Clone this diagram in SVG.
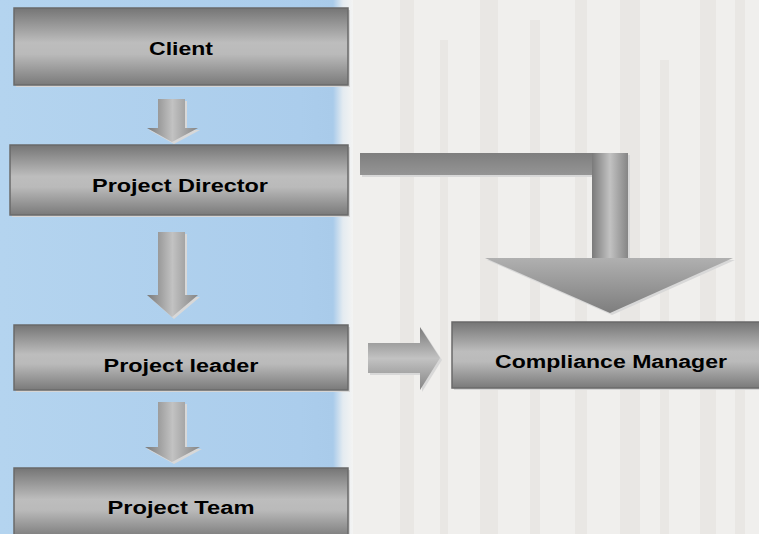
<svg xmlns="http://www.w3.org/2000/svg" width="759" height="534" viewBox="0 0 759 534">
<defs>
<linearGradient id="bgBlue" x1="0" y1="0" x2="1" y2="0">
<stop offset="0" stop-color="#b4d4ef"/>
<stop offset="0.9" stop-color="#abcdec"/>
<stop offset="1" stop-color="#a9cbea"/>
</linearGradient>
<linearGradient id="fade" x1="0" y1="0" x2="1" y2="0">
<stop offset="0" stop-color="#a9cbea"/>
<stop offset="0.5" stop-color="#e4ebf1"/>
<stop offset="1" stop-color="#f4f4f3"/>
</linearGradient>
<linearGradient id="boxG" x1="0" y1="0" x2="0" y2="1">
<stop offset="0" stop-color="#757575"/>
<stop offset="0.45" stop-color="#bdbdbd"/>
<stop offset="0.6" stop-color="#bababa"/>
<stop offset="1" stop-color="#7a7a7a"/>
</linearGradient>
<linearGradient id="arrV" x1="0" y1="0" x2="1" y2="0">
<stop offset="0" stop-color="#7a7a7a"/>
<stop offset="0.5" stop-color="#c2c2c2"/>
<stop offset="1" stop-color="#858585"/>
</linearGradient>
<linearGradient id="arrH" x1="0" y1="0" x2="0" y2="1">
<stop offset="0" stop-color="#7a7a7a"/>
<stop offset="0.5" stop-color="#c2c2c2"/>
<stop offset="1" stop-color="#858585"/>
</linearGradient>
<linearGradient id="barG" x1="0" y1="0" x2="0" y2="1">
<stop offset="0" stop-color="#7e7e7e"/>
<stop offset="1" stop-color="#959595"/>
</linearGradient>
<linearGradient id="headG" x1="0" y1="0" x2="0" y2="1">
<stop offset="0" stop-color="#b0b0b0"/>
<stop offset="1" stop-color="#7e7e7e"/>
</linearGradient>
</defs>
<style>
.box{fill:url(#boxG);stroke:#6a6a6a;stroke-width:1.5}
.shadow{fill:#d6d6d6}
.lbl{font-family:"Liberation Sans",Arial,sans-serif;font-weight:bold;font-size:18px;fill:#000;text-anchor:middle}
.av{fill:url(#arrV)}
.ah{fill:url(#arrH)}
.ash{fill:#d8d8d8}
</style>
<!-- background -->
<rect x="0" y="0" width="759" height="534" fill="#f0efed"/>
<g fill="#dedbd6" opacity="0.35">
<rect x="400" y="0" width="14" height="534"/>
<rect x="440" y="40" width="8" height="494"/>
<rect x="480" y="0" width="18" height="534"/>
<rect x="530" y="20" width="10" height="514"/>
<rect x="575" y="0" width="12" height="534"/>
<rect x="620" y="0" width="20" height="534"/>
<rect x="660" y="60" width="9" height="474"/>
<rect x="700" y="0" width="16" height="534"/>
<rect x="735" y="0" width="10" height="534"/>
</g>
<rect x="0" y="0" width="333" height="534" fill="url(#bgBlue)"/>
<rect x="333" y="0" width="20" height="534" fill="url(#fade)"/>

<!-- connectors -->
<g id="connectors">
<!-- Client -> Director -->
<path class="ash" d="M160,101 H187 V130 H200 L174,144 L149,130 H160 Z"/>
<path class="av" d="M158,99 H185 V128 H198 L172,142 L147,128 H158 Z"/>
<!-- Director -> Leader -->
<path class="ash" d="M160,234 H187 V297 H200 L174,319 L149,297 H160 Z"/>
<path class="av" d="M158,232 H185 V295 H198 L172,317 L147,295 H158 Z"/>
<!-- Leader -> Team -->
<path class="ash" d="M160,404 H187 V449 H202 L174,464 L147,449 H160 Z"/>
<path class="av" d="M158,402 H185 V447 H200 L172,462 L145,447 H158 Z"/>
<!-- Leader -> Compliance -->
<path class="ash" d="M370,345 H422 V329 L442,360 L422,392 V375 H370 Z"/>
<path class="ah" d="M368,343 H420 V327 L440,358 L420,390 V373 H368 Z"/>
<!-- Director -> Compliance (elbow) -->
<path class="ash" d="M362,155 H630 V260 H735 L612,315 L487,260 H594 V177 H362 Z"/>
<rect x="360" y="153" width="268" height="22" fill="url(#barG)"/>
<rect x="592" y="153" width="36" height="105" fill="url(#arrV)"/>
<path d="M485,258 H733 L610,313 Z" fill="url(#headG)"/>
</g>

<!-- nodes -->
<g id="client">
<rect class="shadow" x="16" y="10" width="334" height="77"/>
<rect class="box" x="14" y="8" width="334" height="77"/>
<text class="lbl" x="181" y="55" textLength="64" lengthAdjust="spacingAndGlyphs">Client</text>
</g>
<g id="director">
<rect class="shadow" x="12" y="147" width="338" height="70"/>
<rect class="box" x="10" y="145" width="338" height="70"/>
<text class="lbl" x="180" y="192" textLength="176" lengthAdjust="spacingAndGlyphs">Project Director</text>
</g>
<g id="leader">
<rect class="shadow" x="16" y="327" width="334" height="65"/>
<rect class="box" x="14" y="325" width="334" height="65"/>
<text class="lbl" x="181" y="372" textLength="155" lengthAdjust="spacingAndGlyphs">Project leader</text>
</g>
<g id="team">
<rect class="shadow" x="16" y="470" width="334" height="66"/>
<rect class="box" x="14" y="468" width="334" height="70"/>
<text class="lbl" x="181" y="514" textLength="147" lengthAdjust="spacingAndGlyphs">Project Team</text>
</g>
<g id="compliance">
<rect class="shadow" x="454" y="324" width="310" height="66"/>
<rect class="box" x="452" y="322" width="312" height="66"/>
<text class="lbl" x="611" y="368" textLength="232" lengthAdjust="spacingAndGlyphs">Compliance Manager</text>
</g>
</svg>
